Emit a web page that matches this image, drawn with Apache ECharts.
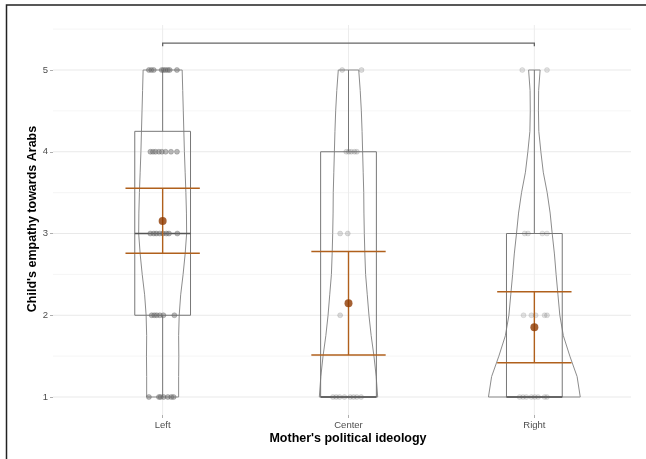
<!DOCTYPE html>
<html>
<head>
<meta charset="utf-8">
<script src="https://cdn.jsdelivr.net/npm/echarts/dist/echarts.min.js"></script>
<style>
  html, body { margin: 0; padding: 0; background: #fff; }
  #chart { width: 646px; height: 459px; }
</style>
</head>
<body>
<div id="chart"></div>
<script>
// Groups on the x axis (positions 1, 2, 3)
const categories = ['Left', 'Center', 'Right'];
const yTicks = [1, 2, 3, 4, 5];
const yGridMinor = [1.5, 2.5, 3.5, 4.5, 5.5];
const xTitle = "Mother's political ideology";
const yTitle = "Child's empathy towards Arabs";

// Box plot statistics per group
const boxMin = [1, 1, 1];
const boxQ1 = [2, 1, 1];
const boxMedian = [3, 1, 1];
const boxQ3 = [4.25, 4, 3];
const boxMax = [5, 5, 5];

// Group means with interval bounds
const means = [3.153, 2.146, 1.853];
const ciLow = [2.758, 1.514, 1.42];
const ciHigh = [3.553, 2.78, 2.288];

// Violin outlines: half-width (x-axis units) at each score level
const violinLevels = [1, 1.25, 1.5, 1.75, 2, 2.25, 2.5, 2.75, 3, 3.25, 3.5, 3.75, 4, 4.25, 4.5, 4.75, 5];
const violinLeft = [0.086, 0.086, 0.087, 0.086, 0.089, 0.097, 0.110, 0.121, 0.129, 0.128, 0.125, 0.121, 0.117, 0.114, 0.111, 0.108, 0.105];
const violinCenter = [0.157, 0.149, 0.137, 0.122, 0.110, 0.101, 0.092, 0.088, 0.085, 0.083, 0.082, 0.079, 0.076, 0.073, 0.069, 0.063, 0.055];
const violinRight = [0.247, 0.230, 0.191, 0.156, 0.137, 0.127, 0.117, 0.108, 0.096, 0.085, 0.069, 0.048, 0.035, 0.024, 0.022, 0.023, 0.031];

// Individual responses: [score, horizontal jitter offsets]
const pointsLeft = [
  [5, [-0.074, -0.061, -0.048, -0.005, 0.005, 0.016, 0.028, 0.038, 0.077]],
  [4, [-0.066, -0.052, -0.038, -0.020, -0.004, 0.016, 0.045, 0.077]],
  [3, [-0.066, -0.048, -0.034, -0.016, 0.002, 0.020, 0.034, 0.079]],
  [2, [-0.059, -0.045, -0.032, -0.015, 0.004, 0.063]],
  [1, [-0.074, -0.020, -0.011, 0.005, 0.028, 0.047, 0.059]]
];
const pointsCenter = [
  [5, [-0.034, 0.070]],
  [4, [-0.012, 0.002, 0.015, 0.032, 0.045]],
  [3, [-0.045, -0.004]],
  [2, [-0.045]],
  [1, [-0.084, -0.066, -0.048, -0.022, 0.009, 0.027, 0.045, 0.068]]
];
const pointsRight = [
  [5, [-0.065, 0.068]],
  [3, [-0.052, -0.034, 0.043, 0.068]],
  [2, [-0.058, -0.016, 0.007, 0.055, 0.068]],
  [1, [-0.079, -0.061, -0.043, -0.016, 0.002, 0.020, 0.055, 0.068]]
];

// Comparison bracket between Left and Right
const bracket = { from: 1, to: 3, y: 5.33, drop: 0.04 };

const violins = [violinLeft, violinCenter, violinRight];
const groupIdx = categories.map((c, i) => [i + 1]);

function scatterData(groupPos, pts) {
  const out = [];
  pts.forEach(([score, offs]) => offs.forEach(o => out.push([groupPos + o, score])));
  return out;
}

const X_MIN = 0.41, X_MAX = 3.52;
const Y_MIN = 0.78, Y_MAX = 5.5505;
const FONT = 'Liberation Sans, Arial, sans-serif';

const chart = echarts.init(document.getElementById('chart'), null, { renderer: 'canvas' });

const gridLineSeries = {
  type: 'custom',
  silent: true,
  z: 1,
  data: yTicks.map(v => [v, 1]).concat(yGridMinor.map(v => [v, 0])),
  renderItem(params, api) {
    const v = api.value(0);
    const major = api.value(1) === 1;
    const a = api.coord([X_MIN, v]);
    const b = api.coord([X_MAX, v]);
    return { type: 'line', shape: { x1: a[0], y1: a[1], x2: b[0], y2: b[1] },
      style: { stroke: major ? '#e9e9e9' : '#f3f3f3', lineWidth: major ? 1 : 0.8 } };
  }
};

const vGridSeries = {
  type: 'custom',
  silent: true,
  z: 1,
  data: groupIdx,
  renderItem(params, api) {
    const g = api.value(0);
    const a = api.coord([g, Y_MIN]);
    const b = api.coord([g, Y_MAX]);
    return { type: 'line', shape: { x1: a[0], y1: a[1], x2: b[0], y2: b[1] },
      style: { stroke: '#ececec', lineWidth: 1 } };
  }
};

const violinSeries = {
  type: 'custom',
  silent: true,
  z: 2,
  data: groupIdx,
  renderItem(params, api) {
    const g = api.value(0);
    const w = violins[g - 1];
    const right = [], left = [];
    violinLevels.forEach((lv, i) => {
      right.push(api.coord([g + w[i], lv]));
      left.push(api.coord([g - w[i], lv]));
    });
    const pts = right.concat(left.reverse());
    return { type: 'polygon', shape: { points: pts },
      style: { fill: 'none', stroke: '#8c8c8c', lineWidth: 1 } };
  }
};

const BOX_HALF = 0.15;
const boxSeries = {
  type: 'custom',
  silent: true,
  z: 3,
  data: groupIdx,
  renderItem(params, api) {
    const i = api.value(0) - 1;
    const g = i + 1;
    const tl = api.coord([g - BOX_HALF, boxQ3[i]]);
    const br = api.coord([g + BOX_HALF, boxQ1[i]]);
    const mL = api.coord([g - BOX_HALF, boxMedian[i]]);
    const mR = api.coord([g + BOX_HALF, boxMedian[i]]);
    const wTop = api.coord([g, boxMax[i]]);
    const wBot = api.coord([g, boxMin[i]]);
    const children = [
      { type: 'rect', shape: { x: tl[0], y: tl[1], width: br[0] - tl[0], height: br[1] - tl[1] },
        style: { fill: 'none', stroke: '#777', lineWidth: 1 } },
      { type: 'line', shape: { x1: mL[0], y1: mL[1], x2: mR[0], y2: mR[1] },
        style: { stroke: '#555', lineWidth: 1.4 } },
      { type: 'line', shape: { x1: wTop[0], y1: wTop[1], x2: wTop[0], y2: tl[1] },
        style: { stroke: '#777', lineWidth: 1 } }
    ];
    if (boxMin[i] < boxQ1[i]) {
      children.push({ type: 'line', shape: { x1: wBot[0], y1: br[1], x2: wBot[0], y2: wBot[1] },
        style: { stroke: '#777', lineWidth: 1 } });
    }
    return { type: 'group', children };
  }
};

const CAP_HALF = 0.2;
const errorSeries = {
  type: 'custom',
  silent: true,
  z: 5,
  data: groupIdx,
  renderItem(params, api) {
    const i = api.value(0) - 1;
    const g = i + 1;
    const hi = api.coord([g, ciHigh[i]]);
    const lo = api.coord([g, ciLow[i]]);
    const hiL = api.coord([g - CAP_HALF, ciHigh[i]]);
    const hiR = api.coord([g + CAP_HALF, ciHigh[i]]);
    const loL = api.coord([g - CAP_HALF, ciLow[i]]);
    const loR = api.coord([g + CAP_HALF, ciLow[i]]);
    const st = { stroke: '#b0601c', lineWidth: 1.4 };
    return { type: 'group', children: [
      { type: 'line', shape: { x1: hi[0], y1: hi[1], x2: lo[0], y2: lo[1] }, style: st },
      { type: 'line', shape: { x1: hiL[0], y1: hiL[1], x2: hiR[0], y2: hiR[1] }, style: st },
      { type: 'line', shape: { x1: loL[0], y1: loL[1], x2: loR[0], y2: loR[1] }, style: st }
    ] };
  }
};

const bracketSeries = {
  type: 'custom',
  silent: true,
  z: 5,
  data: [[bracket.from, bracket.to, bracket.y]],
  renderItem(params, api) {
    const a = api.coord([api.value(0), api.value(2)]);
    const b = api.coord([api.value(1), api.value(2)]);
    const a2 = api.coord([api.value(0), api.value(2) - bracket.drop]);
    const b2 = api.coord([api.value(1), api.value(2) - bracket.drop]);
    return { type: 'polyline', shape: { points: [a2, a, b, b2] },
      style: { fill: 'none', stroke: '#666', lineWidth: 1.3 } };
  }
};

function pointSeries(data, opacity) {
  return {
    type: 'scatter',
    silent: true,
    z: 4,
    symbolSize: 5,
    data,
    itemStyle: { color: 'rgba(110,110,110,' + opacity + ')', borderColor: 'rgba(80,80,80,' + opacity + ')', borderWidth: 0.6 }
  };
}

chart.setOption({
  animation: false,
  backgroundColor: '#fff',
  textStyle: { fontFamily: FONT },
  grid: { left: 53, right: 15, top: 25, height: 390 },
  xAxis: {
    type: 'value',
    min: X_MIN,
    max: X_MAX,
    axisLine: { show: false },
    splitLine: { show: false },
    axisTick: { show: true, customValues: [1, 2, 3], length: 3, lineStyle: { color: '#999', width: 0.8 } },
    axisLabel: { customValues: [1, 2, 3], formatter: v => categories[Math.round(v) - 1],
      color: '#4d4d4d', fontSize: 9.5, margin: 5 }
  },
  yAxis: {
    type: 'value',
    min: Y_MIN,
    max: Y_MAX,
    axisLine: { show: false },
    splitLine: { show: false },
    axisTick: { show: true, customValues: yTicks, length: 3, lineStyle: { color: '#999', width: 0.8 } },
    axisLabel: { customValues: yTicks, color: '#4d4d4d', fontSize: 9.5, margin: 5 }
  },
  graphic: [
    { type: 'text', x: 348, y: 438.5, silent: true,
      style: { text: xTitle, fill: '#000', font: 'bold 12.5px ' + FONT, align: 'center', verticalAlign: 'middle' } },
    { type: 'text', x: 33, y: 219, rotation: Math.PI / 2, silent: true,
      style: { text: yTitle, fill: '#000', font: 'bold 12.5px ' + FONT, align: 'center', verticalAlign: 'middle' } },
    { type: 'rect', shape: { x: 6.5, y: 5, width: 800, height: 600 }, silent: true,
      style: { fill: 'none', stroke: '#222', lineWidth: 1.5 }, z: 100 }
  ],
  series: [
    gridLineSeries,
    vGridSeries,
    violinSeries,
    boxSeries,
    pointSeries(scatterData(1, pointsLeft), 0.6),
    pointSeries(scatterData(2, pointsCenter), 0.3),
    pointSeries(scatterData(3, pointsRight), 0.25),
    errorSeries,
    {
      type: 'scatter',
      silent: true,
      z: 6,
      symbolSize: 8,
      data: means.map((m, i) => [i + 1, m]),
      itemStyle: { color: '#8f3a00' }
    },
    bracketSeries
  ]
});
</script>
</body>
</html>
